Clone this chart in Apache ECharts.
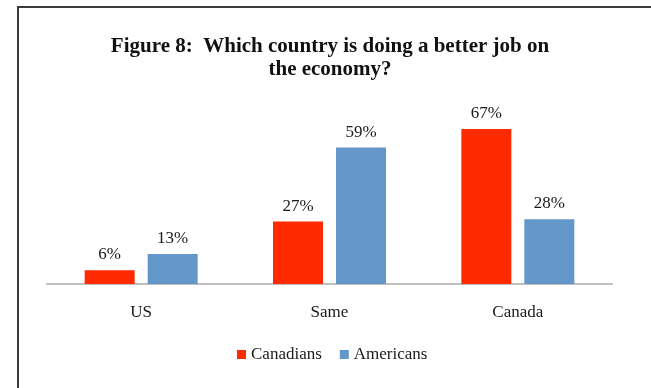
<!DOCTYPE html>
<html>
<head>
<meta charset="utf-8">
<script src="https://cdn.jsdelivr.net/npm/echarts@6/dist/echarts.min.js"></script>
<style>
  html, body { margin: 0; padding: 0; background: #fff; }
  #chart { width: 651px; height: 388px; }
</style>
</head>
<body>
<div id="chart"></div>
<script>
// Survey answers: which country is handling the economy better
const categories = ['US', 'Same', 'Canada'];
const canadians = [6, 27, 67];
const americans = [13, 59, 28];
const seriesNames = ['Canadians', 'Americans'];

const serif = '"Liberation Serif", "DejaVu Serif", serif';
const textColor = '#1a1a1a';

const chart = echarts.init(document.getElementById('chart'));

const valueLabel = {
  show: true,
  position: 'top',
  distance: 7,
  formatter: p => p.value + '%',
  fontFamily: serif,
  fontSize: 17,
  color: textColor
};

chart.setOption({
  animation: false,
  backgroundColor: '#fff',
  title: {
    text: 'Figure 8:  Which country is doing a better job on\nthe economy?',
    left: 325,
    textAlign: 'center',
    top: 30,
    textStyle: {
      fontFamily: serif,
      fontWeight: 'bold',
      fontSize: 21,
      lineHeight: 23,
      color: '#111'
    }
  },
  legend: {
    bottom: 20,
    left: 232,
    itemWidth: 9,
    itemHeight: 9,
    itemGap: 18,
    icon: 'rect',
    textStyle: { fontFamily: serif, fontSize: 17, color: textColor, padding: [0, 0, 0, 0] },
    data: seriesNames
  },
  grid: { left: 47, right: 39, top: 99, bottom: 104 },
  xAxis: {
    type: 'category',
    data: categories,
    axisLine: { lineStyle: { color: '#bfbfbf', width: 2 } },
    axisTick: { show: false },
    axisLabel: { fontFamily: serif, fontSize: 17, color: textColor, margin: 20 }
  },
  yAxis: {
    type: 'value',
    min: 0,
    max: 80,
    show: false,
    splitLine: { show: false }
  },
  series: [
    {
      name: seriesNames[0],
      type: 'bar',
      data: canadians,
      barWidth: 50,
      barGap: '26%',
      itemStyle: { color: '#FF2A00' },
      label: valueLabel
    },
    {
      name: seriesNames[1],
      type: 'bar',
      data: americans,
      barWidth: 50,
      itemStyle: { color: '#6497C9' },
      label: valueLabel
    }
  ],
  graphic: [
    {
      type: 'polyline',
      shape: { points: [[18, 400], [18, 7], [660, 7]] },
      style: { stroke: '#3a3a3a', lineWidth: 2, fill: null }
    }
  ]
});
</script>
</body>
</html>
